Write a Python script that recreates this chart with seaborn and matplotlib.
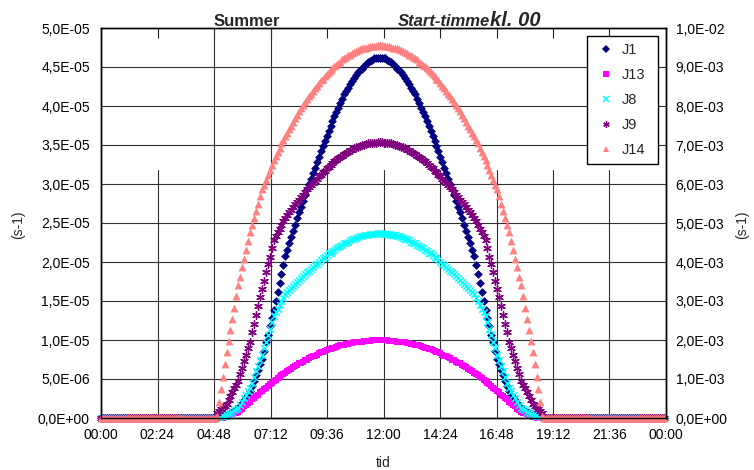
import numpy as np
import pandas as pd
import matplotlib
matplotlib.use("Agg")
import matplotlib.pyplot as plt
from matplotlib.ticker import FuncFormatter, FixedLocator
from matplotlib.lines import Line2D
import seaborn as sns

# ---------------- data (values in 1e-6 s-1), one value every 5 minutes ----------------
tid_minutes = list(range(0, 24 * 60, 5))          # 00:00 ... 23:55

# all series are zero during the night
zeros_morning = [0, 0, 0, 0, 0, 0, 0, 0, 0, 0,
                 0, 0, 0, 0, 0, 0, 0, 0, 0, 0,
                 0, 0, 0, 0, 0, 0, 0, 0, 0, 0,
                 0, 0, 0, 0, 0, 0, 0, 0, 0, 0,
                 0, 0, 0, 0, 0, 0, 0, 0, 0, 0,
                 0, 0, 0, 0, 0, 0, 0, 0, 0]            # 00:00 - 04:50
zeros_evening = [0, 0, 0, 0, 0, 0, 0, 0, 0, 0,
                 0, 0, 0, 0, 0, 0, 0, 0, 0, 0,
                 0, 0, 0, 0, 0, 0, 0, 0, 0, 0,
                 0, 0, 0, 0, 0, 0, 0, 0, 0, 0,
                 0, 0, 0, 0, 0, 0, 0, 0, 0, 0,
                 0, 0, 0, 0, 0, 0, 0, 0, 0, 0,
                 0, 0]                                  # 18:50 - 23:55

# daytime values 04:55 - 18:45
J1_day = [0.1, 0.2, 0.2, 0.3, 0.3, 0.4, 0.5, 0.7, 0.8, 0.9, 1.1, 1.2,
          1.6, 1.9, 2.3, 2.7, 3.0, 3.4, 4.1, 4.8, 5.5, 6.2, 6.9, 7.6,
          8.6, 9.7, 10.7, 11.8, 12.8, 13.9, 15.0, 16.2, 17.3, 18.5, 19.6, 20.8,
          21.6, 22.4, 23.2, 24.0, 24.8, 25.7, 26.4, 27.1, 27.8, 28.6, 29.3, 30.0,
          30.7, 31.4, 32.1, 32.8, 33.5, 34.2, 34.9, 35.5, 36.2, 36.8, 37.5, 38.1,
          38.7, 39.2, 39.8, 40.4, 40.9, 41.5, 41.9, 42.3, 42.8, 43.2, 43.6, 44.0,
          44.3, 44.6, 44.8, 45.1, 45.4, 45.7, 45.8, 45.9, 46.1, 46.1, 46.2,
          46.2,
          46.2, 46.1, 46.1, 45.9, 45.8, 45.7, 45.4, 45.1, 44.8, 44.6, 44.3,
          44.0, 43.6, 43.2, 42.8, 42.3, 41.9, 41.5, 40.9, 40.4, 39.8, 39.2, 38.7,
          38.1, 37.5, 36.8, 36.2, 35.5, 34.9, 34.2, 33.5, 32.8, 32.1, 31.4, 30.7,
          30.0, 29.3, 28.6, 27.8, 27.1, 26.4, 25.7, 24.8, 24.0, 23.2, 22.4, 21.6,
          20.8, 19.6, 18.5, 17.3, 16.2, 15.0, 13.9, 12.8, 11.8, 10.7, 9.7, 8.6,
          7.6, 6.9, 6.2, 5.5, 4.8, 4.1, 3.4, 3.0, 2.7, 2.3, 1.9, 1.6,
          1.2, 1.1, 0.9, 0.8, 0.7, 0.5, 0.4, 0.3, 0.3, 0.2, 0.2, 0.1]

J13_day = [0.0, 0.0, 0.0, 0.0, 0.1, 0.1, 0.2, 0.3, 0.5, 0.6, 0.7, 0.8,
           1.0, 1.2, 1.5, 1.7, 1.9, 2.1, 2.4, 2.6, 2.8, 3.0, 3.3, 3.5,
           3.7, 3.9, 4.1, 4.3, 4.5, 4.7, 4.9, 5.1, 5.3, 5.5, 5.7, 5.8,
           6.0, 6.2, 6.3, 6.5, 6.7, 6.8, 7.0, 7.1, 7.2, 7.4, 7.5, 7.7,
           7.8, 7.9, 8.0, 8.1, 8.3, 8.4, 8.5, 8.6, 8.7, 8.8, 8.9, 9.0,
           9.0, 9.1, 9.2, 9.3, 9.3, 9.4, 9.5, 9.5, 9.6, 9.6, 9.7, 9.7,
           9.8, 9.8, 9.8, 9.9, 9.9, 9.9, 9.9, 10.0, 10.0, 10.0, 10.0,
           10.0,
           10.0, 10.0, 10.0, 10.0, 9.9, 9.9, 9.9, 9.9, 9.8, 9.8, 9.8,
           9.7, 9.7, 9.6, 9.6, 9.5, 9.5, 9.4, 9.3, 9.3, 9.2, 9.1, 9.0,
           9.0, 8.9, 8.8, 8.7, 8.6, 8.5, 8.4, 8.3, 8.1, 8.0, 7.9, 7.8,
           7.7, 7.5, 7.4, 7.2, 7.1, 7.0, 6.8, 6.7, 6.5, 6.3, 6.2, 6.0,
           5.8, 5.7, 5.5, 5.3, 5.1, 4.9, 4.7, 4.5, 4.3, 4.1, 3.9, 3.7,
           3.5, 3.3, 3.0, 2.8, 2.6, 2.4, 2.1, 1.9, 1.7, 1.5, 1.2, 1.0,
           0.8, 0.7, 0.6, 0.5, 0.3, 0.2, 0.1, 0.1, 0.0, 0.0, 0.0, 0.0]

J8_day = [0.1, 0.1, 0.2, 0.3, 0.3, 0.4, 0.5, 0.7, 0.8, 1.0, 1.2, 1.3,
          1.7, 2.1, 2.6, 3.0, 3.4, 3.8, 4.5, 5.2, 6.0, 6.7, 7.4, 8.1,
          9.0, 9.8, 10.6, 11.4, 12.3, 13.1, 13.6, 14.0, 14.5, 15.0, 15.4, 15.9,
          16.2, 16.4, 16.7, 16.9, 17.2, 17.5, 17.7, 17.9, 18.2, 18.4, 18.7, 18.9,
          19.1, 19.4, 19.6, 19.8, 20.0, 20.3, 20.5, 20.7, 20.9, 21.1, 21.2, 21.4,
          21.6, 21.8, 21.9, 22.1, 22.2, 22.4, 22.5, 22.6, 22.8, 22.9, 23.0, 23.1,
          23.2, 23.3, 23.3, 23.4, 23.5, 23.5, 23.6, 23.6, 23.6, 23.6, 23.7,
          23.7,
          23.7, 23.6, 23.6, 23.6, 23.6, 23.5, 23.5, 23.4, 23.3, 23.3, 23.2,
          23.1, 23.0, 22.9, 22.8, 22.6, 22.5, 22.4, 22.2, 22.1, 21.9, 21.8, 21.6,
          21.4, 21.2, 21.1, 20.9, 20.7, 20.5, 20.3, 20.0, 19.8, 19.6, 19.4, 19.1,
          18.9, 18.7, 18.4, 18.2, 17.9, 17.7, 17.5, 17.2, 16.9, 16.7, 16.4, 16.2,
          15.9, 15.4, 15.0, 14.5, 14.0, 13.6, 13.1, 12.3, 11.4, 10.6, 9.8, 9.0,
          8.1, 7.4, 6.7, 6.0, 5.2, 4.5, 3.8, 3.4, 3.0, 2.6, 2.1, 1.7,
          1.3, 1.2, 1.0, 0.8, 0.7, 0.5, 0.4, 0.3, 0.3, 0.2, 0.1, 0.1]

J9_day = [0.7, 0.9, 1.2, 1.4, 1.6, 1.8, 2.3, 2.8, 3.3, 3.8, 4.2, 4.7,
          5.6, 6.4, 7.3, 8.1, 9.0, 9.8, 11.0, 12.1, 13.2, 14.4, 15.5, 16.6,
          17.6, 18.7, 19.7, 20.7, 21.8, 22.8, 23.3, 23.8, 24.2, 24.7, 25.2, 25.7,
          26.0, 26.4, 26.7, 27.0, 27.4, 27.7, 28.0, 28.3, 28.6, 29.0, 29.3, 29.6,
          29.9, 30.1, 30.4, 30.7, 31.0, 31.2, 31.5, 31.7, 32.0, 32.2, 32.4, 32.7,
          32.9, 33.1, 33.3, 33.4, 33.6, 33.8, 34.0, 34.1, 34.3, 34.4, 34.6, 34.7,
          34.8, 34.9, 35.0, 35.0, 35.1, 35.2, 35.2, 35.3, 35.3, 35.3, 35.4,
          35.4,
          35.4, 35.3, 35.3, 35.3, 35.2, 35.2, 35.1, 35.0, 35.0, 34.9, 34.8,
          34.7, 34.6, 34.4, 34.3, 34.1, 34.0, 33.8, 33.6, 33.4, 33.3, 33.1, 32.9,
          32.7, 32.4, 32.2, 32.0, 31.7, 31.5, 31.2, 31.0, 30.7, 30.4, 30.1, 29.9,
          29.6, 29.3, 29.0, 28.6, 28.3, 28.0, 27.7, 27.4, 27.0, 26.7, 26.4, 26.0,
          25.7, 25.2, 24.7, 24.2, 23.8, 23.3, 22.8, 21.8, 20.7, 19.7, 18.7, 17.6,
          16.6, 15.5, 14.4, 13.2, 12.1, 11.0, 9.8, 9.0, 8.1, 7.3, 6.4, 5.6,
          4.7, 4.2, 3.8, 3.3, 2.8, 2.3, 1.8, 1.6, 1.4, 1.2, 0.9, 0.7]

J14_day = [0.2, 2.0, 3.7, 5.3, 6.9, 8.5, 9.9, 11.3, 12.7, 14.1, 15.6, 17.0,
           18.1, 19.3, 20.4, 21.6, 22.7, 23.9, 24.8, 25.7, 26.6, 27.5, 28.4, 29.3,
           29.9, 30.5, 31.2, 31.8, 32.5, 33.1, 33.6, 34.1, 34.6, 35.2, 35.7, 36.2,
           36.6, 37.1, 37.5, 38.0, 38.5, 38.9, 39.3, 39.7, 40.1, 40.5, 40.9, 41.3,
           41.6, 41.9, 42.3, 42.6, 42.9, 43.3, 43.5, 43.8, 44.1, 44.4, 44.6, 44.9,
           45.1, 45.3, 45.5, 45.7, 46.0, 46.2, 46.3, 46.5, 46.6, 46.8, 46.9, 47.1,
           47.2, 47.3, 47.4, 47.4, 47.5, 47.6, 47.7, 47.7, 47.7, 47.7, 47.8,
           47.8,
           47.8, 47.7, 47.7, 47.7, 47.7, 47.6, 47.5, 47.4, 47.4, 47.3, 47.2,
           47.1, 46.9, 46.8, 46.6, 46.5, 46.3, 46.2, 46.0, 45.7, 45.5, 45.3, 45.1,
           44.9, 44.6, 44.4, 44.1, 43.8, 43.5, 43.3, 42.9, 42.6, 42.3, 41.9, 41.6,
           41.3, 40.9, 40.5, 40.1, 39.7, 39.3, 38.9, 38.5, 38.0, 37.5, 37.1, 36.6,
           36.2, 35.7, 35.2, 34.6, 34.1, 33.6, 33.1, 32.5, 31.8, 31.2, 30.5, 29.9,
           29.3, 28.4, 27.5, 26.6, 25.7, 24.8, 23.9, 22.7, 21.6, 20.4, 19.3, 18.1,
           17.0, 15.6, 14.1, 12.7, 11.3, 9.9, 8.5, 6.9, 5.3, 3.7, 2.0, 0.2]

series_names = ["J1", "J13", "J8", "J9", "J14"]
x_tick_labels = ["00:00", "02:24", "04:48", "07:12", "09:36", "12:00",
                 "14:24", "16:48", "19:12", "21:36", "00:00"]
full_grid_labels = ["04:48", "07:12"]   # vertical grid lines drawn over the full height

# ---------------- build the long table ----------------
day_values = {"J1": J1_day, "J13": J13_day, "J8": J8_day, "J9": J9_day, "J14": J14_day}
frames = []
for name in series_names:
    vals = zeros_morning + day_values[name] + zeros_evening
    assert len(vals) == len(tid_minutes), (name, len(vals))
    frames.append(pd.DataFrame({"tid": np.array(tid_minutes) / 60.0,
                                "value": np.array(vals, dtype=float) * 1e-6,
                                "serie": name}))
df = pd.concat(frames, ignore_index=True)

# ---------------- style ----------------
sns.set_theme(style="white")
plt.rcParams["font.family"] = ["Liberation Sans", "DejaVu Sans"]
plt.rcParams["axes.unicode_minus"] = False

styles = {
    "J1":  dict(marker="D", color="#000080", s=20, linewidth=0),
    "J13": dict(marker="s", color="#FF00FF", s=24, linewidth=0),
    "J8":  dict(marker="x", color="#00FFFF", s=22, linewidth=1.1),
    "J9":  dict(marker=(6, 2, 0), color="#800080", s=30, linewidth=1.0),
    "J14": dict(marker="^", color="#FF8080", s=32, linewidth=0),
}

fig = plt.figure(figsize=(7.54, 4.70), dpi=100)
ax = fig.add_axes([101 / 754, 52 / 470, 565 / 754, 390 / 470])

for i, name in enumerate(series_names):
    sub = df[df["serie"] == name]
    sns.scatterplot(data=sub, x="tid", y="value", ax=ax, clip_on=False,
                    zorder=3 + i, legend=False, **styles[name])

ax.set_xlim(0, 24)
ax.set_ylim(0, 5e-5)

sci = FuncFormatter(lambda v, _: f"{v:.1E}".replace(".", ","))

xticks = np.linspace(0, 24, len(x_tick_labels))
ax.xaxis.set_major_locator(FixedLocator(xticks))
ax.set_xticklabels(x_tick_labels)
ax.yaxis.set_major_locator(FixedLocator(np.linspace(0, 5e-5, 11)))
ax.yaxis.set_major_formatter(sci)

ax.tick_params(axis="x", which="both", bottom=False, top=True, direction="in",
               length=7, width=0.8, color="#202020", labelsize=10, pad=7,
               labelcolor="black")
ax.tick_params(axis="y", length=0, labelsize=10, pad=8, labelcolor="black")

grid_col = "#303030"
ax.grid(False)
for yv in np.linspace(0, 5e-5, 11)[1:-1]:
    ax.axhline(yv, color=grid_col, lw=0.8, zorder=1)
for xv, lab in zip(xticks[1:-1], x_tick_labels[1:-1]):
    top = 1.0 if lab in full_grid_labels else 0.636
    ax.axvline(xv, ymin=0, ymax=top, color=grid_col, lw=0.8, zorder=1)

for sp in ax.spines.values():
    sp.set_visible(True)
    sp.set_color("black")
    sp.set_linewidth(1.0)

ax.set_xlabel("tid", fontsize=10)
ax.xaxis.set_label_coords(0.5, -0.098)
ax.set_ylabel("(s-1)", fontsize=10)
ax.yaxis.set_label_coords(-0.135, 0.495)

# secondary axis
ax2 = ax.twinx()
ax2.set_ylim(0, 1e-2)
ax2.yaxis.set_major_locator(FixedLocator(np.linspace(0, 1e-2, 11)))
ax2.yaxis.set_major_formatter(sci)
ax2.tick_params(axis="y", length=0, labelsize=10, pad=7, labelcolor="black")
ax2.grid(False)
for sp in ax2.spines.values():
    sp.set_color("black")
    sp.set_linewidth(1.0)
ax2.set_ylabel("(s-1)", fontsize=10)
ax2.yaxis.set_label_coords(1.122, 0.495)

# legend
handles = []
for name in series_names:
    st = styles[name]
    handles.append(Line2D([], [], linestyle="none", marker=st["marker"],
                          color=st["color"], markersize=4.5,
                          markeredgewidth=st["linewidth"] if st["linewidth"] else 0.0,
                          label=name))
leg = ax2.legend(handles=handles, loc="upper left",
                 bbox_to_anchor=(0.8602, 0.6333, 0.1257, 0.3462), mode="expand",
                 fontsize=10.5, frameon=True, fancybox=False, shadow=False,
                 borderpad=0.5, labelspacing=0.75, handlelength=1.6,
                 handletextpad=0.25, borderaxespad=0.0)
leg.get_frame().set_edgecolor("black")
leg.get_frame().set_linewidth(1.0)
leg.get_frame().set_facecolor("white")
leg.get_frame().set_alpha(1.0)

# titles
fig.text(214 / 754, 1 - 26 / 470, "Summer", fontsize=12, fontweight="bold",
         ha="left", va="baseline")
fig.text(398 / 754, 1 - 26 / 470, "Start-timme", fontsize=12, fontweight="bold",
         fontstyle="italic", ha="left", va="baseline")
fig.text(490 / 754, 1 - 26 / 470, "kl. 00", fontsize=14.5, fontweight="bold",
         fontstyle="italic", ha="left", va="baseline")

fig.savefig("out.png", dpi=100, facecolor="white")
